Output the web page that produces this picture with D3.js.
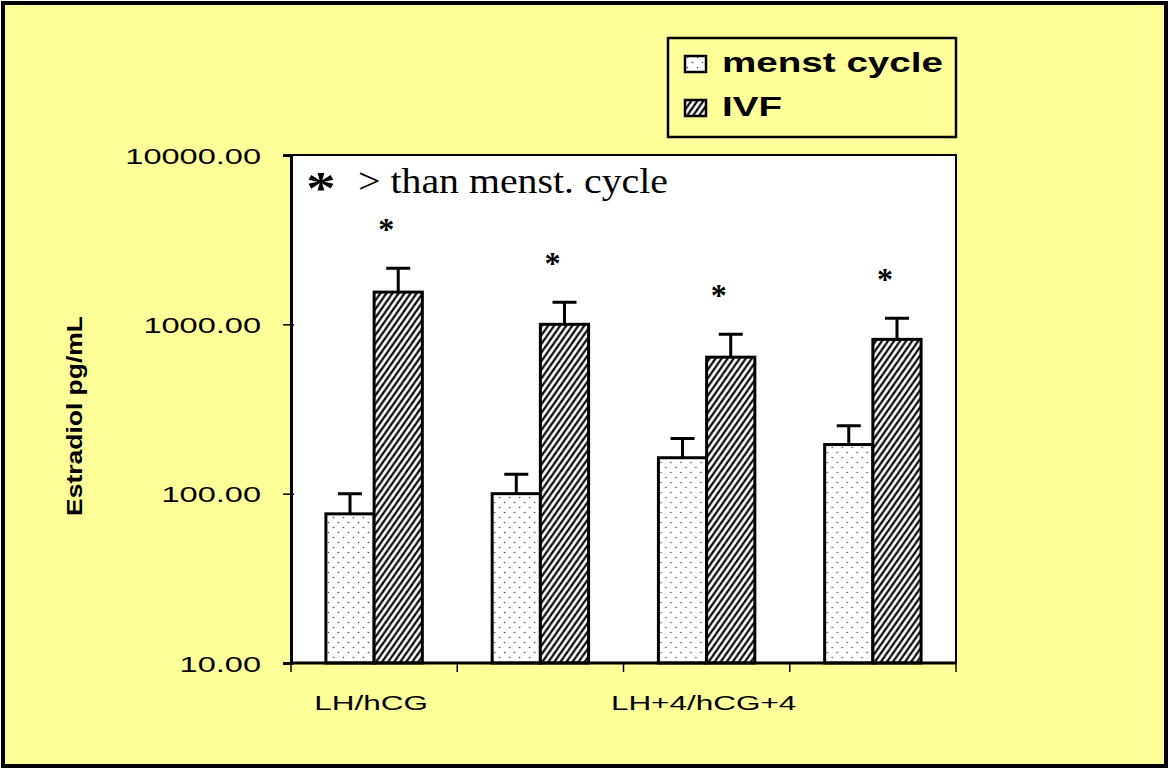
<!DOCTYPE html>
<html>
<head>
<meta charset="utf-8">
<script src="https://cdn.jsdelivr.net/npm/d3@7"></script>
<style>
  html, body { margin: 0; padding: 0; background: #ffffff; }
  svg { display: block; }
</style>
</head>
<body>
<script>
// Estradiol by timepoint, spontaneous cycle vs IVF (mean + upper SEM)
const tickLabels = ["LH/hCG", "", "LH+4/hCG+4", ""];
const seriesNames = ["menst cycle", "IVF"];
const menstMean = [76, 100, 163, 195];
const menstErr = [24, 30, 49, 57];
const ivfMean = [1550, 1000, 640, 815];
const ivfErr = [595, 350, 233, 271];
const ivfSignificant = [true, true, true, true];
const yTicks = [10, 100, 1000, 10000];
const noteText = "> than menst. cycle";

const W = 1169, H = 770;
const plot = { left: 291, right: 956, top: 155, bottom: 663 };

const svg = d3.select("body").append("svg")
  .attr("width", W).attr("height", H);

// patterns for the two series
const defs = svg.append("defs");
const dots = defs.append("pattern")
  .attr("id", "dots").attr("patternUnits", "userSpaceOnUse")
  .attr("width", 10).attr("height", 10);
dots.append("rect").attr("width", 10).attr("height", 10).attr("fill", "#ffffff");
dots.append("circle").attr("cx", 2.5).attr("cy", 2.5).attr("r", 0.8).attr("fill", "#444");
dots.append("circle").attr("cx", 7.5).attr("cy", 7.5).attr("r", 0.8).attr("fill", "#444");

const hatch = defs.append("pattern")
  .attr("id", "hatch").attr("patternUnits", "userSpaceOnUse")
  .attr("width", 7).attr("height", 7)
  .attr("patternTransform", "rotate(-10)");
hatch.append("rect").attr("width", 7).attr("height", 7).attr("fill", "#ffffff");
hatch.append("path")
  .attr("d", "M-1.75,1.75 L1.75,-1.75 M0,7 L7,0 M5.25,8.75 L8.75,5.25")
  .attr("stroke", "#000").attr("stroke-width", 2.2);

const fills = ["url(#dots)", "url(#hatch)"];

// page background and frame
svg.append("rect")
  .attr("x", 3).attr("y", 3).attr("width", W - 6).attr("height", H - 7)
  .attr("fill", "#ffff99").attr("stroke", "#000").attr("stroke-width", 4);

// scales
const y = d3.scaleLog().domain([10, 10000]).range([plot.bottom, plot.top]);
const x0 = d3.scaleBand().domain(d3.range(tickLabels.length))
  .range([plot.left, plot.right]).paddingInner(0.42).paddingOuter(0.21);
const x1 = d3.scaleBand().domain(seriesNames).range([0, x0.bandwidth()]);

// plot area
svg.append("rect")
  .attr("x", plot.left).attr("y", plot.top)
  .attr("width", plot.right - plot.left).attr("height", plot.bottom - plot.top)
  .attr("fill", "#ffffff").attr("stroke", "#000").attr("stroke-width", 2);

// bars
const rows = d3.range(tickLabels.length).map(i => ({
  i,
  bars: [
    { s: seriesNames[0], v: menstMean[i], e: menstErr[i], star: false },
    { s: seriesNames[1], v: ivfMean[i], e: ivfErr[i], star: ivfSignificant[i] }
  ]
}));

const g = svg.append("g").selectAll("g").data(rows).join("g")
  .attr("transform", d => `translate(${x0(d.i)},0)`);

// error bars (upper only)
const capW = 24;
g.selectAll("path.err").data(d => d.bars).join("path")
  .attr("class", "err")
  .attr("d", d => {
    const cx = x1(d.s) + x1.bandwidth() / 2;
    const yt = y(d.v + d.e);
    return `M${cx},${y(d.v)} V${yt} M${cx - capW / 2},${yt} H${cx + capW / 2}`;
  })
  .attr("stroke", "#000").attr("stroke-width", 3).attr("fill", "none");

g.selectAll("rect.bar").data(d => d.bars).join("rect")
  .attr("class", "bar")
  .attr("x", d => x1(d.s))
  .attr("y", d => y(d.v))
  .attr("width", x1.bandwidth())
  .attr("height", d => y(10) - y(d.v))
  .attr("fill", (d, k) => fills[k])
  .attr("stroke", "#000").attr("stroke-width", 3);

// significance marks, set just left of the IVF bar centre
g.selectAll("text.star").data(d => d.bars.filter(b => b.star)).join("text")
  .attr("class", "star")
  .attr("x", d => x1(d.s) + x1.bandwidth() / 2 - 12)
  .attr("y", d => y(d.v + d.e) - 28)
  .attr("text-anchor", "middle")
  .attr("font-family", "'Liberation Serif', 'Times New Roman', serif")
  .attr("font-weight", "bold")
  .attr("font-size", 32)
  .text("*");

// y axis
const yAxis = d3.axisLeft(y).tickValues(yTicks).tickFormat(d3.format(".2f"))
  .tickSize(8).tickPadding(0);
const ya = svg.append("g").attr("transform", `translate(${plot.left},0)`).call(yAxis);
ya.select(".domain").attr("stroke", "#000").attr("stroke-width", 3);
ya.selectAll(".tick line").attr("stroke", "#000").attr("stroke-width", 1.5)
  .attr("x2", -8).attr("x1", 3);
ya.selectAll(".tick text").remove();
ya.selectAll(".tick").append("text")
  .attr("transform", "translate(-30,8) scale(1.48,1)")
  .attr("text-anchor", "end")
  .attr("fill", "#000")
  .attr("font-family", "'Liberation Sans', Arial, sans-serif")
  .attr("font-size", 22)
  .text(d => d3.format(".2f")(d));

// x axis: line with ticks at group boundaries
svg.append("line")
  .attr("x1", plot.left).attr("x2", plot.right)
  .attr("y1", plot.bottom).attr("y2", plot.bottom)
  .attr("stroke", "#000").attr("stroke-width", 3);
svg.append("g").selectAll("line")
  .data(d3.range(tickLabels.length + 1))
  .join("line")
  .attr("x1", k => plot.left + k * x0.step())
  .attr("x2", k => plot.left + k * x0.step())
  .attr("y1", plot.bottom).attr("y2", plot.bottom + 9)
  .attr("stroke", "#000").attr("stroke-width", 1.5);

svg.append("g").selectAll("text")
  .data(d3.range(tickLabels.length).filter(i => tickLabels[i] !== ""))
  .join("text")
  .attr("transform", i => `translate(${x0(i) + x0.bandwidth() / 2 - 3},710) scale(1.5,1)`)
  .attr("text-anchor", "middle")
  .attr("font-family", "'Liberation Sans', Arial, sans-serif")
  .attr("font-size", 21)
  .text(i => tickLabels[i]);

// y axis title
svg.append("text")
  .attr("transform", "translate(82,416) rotate(-90)")
  .attr("text-anchor", "middle")
  .attr("font-family", "'Liberation Sans', Arial, sans-serif")
  .attr("font-weight", "bold")
  .attr("font-size", 22)
  .attr("textLength", 200)
  .attr("lengthAdjust", "spacingAndGlyphs")
  .text("Estradiol pg/mL");

// annotation inside the plot
svg.append("text")
  .attr("transform", "translate(321,204) scale(1.3,1)")
  .attr("text-anchor", "middle")
  .attr("font-family", "'Liberation Serif', 'Times New Roman', serif")
  .attr("font-weight", "bold")
  .attr("font-size", 46)
  .text("*");
svg.append("text")
  .attr("x", 358).attr("y", 193)
  .attr("font-family", "'Liberation Serif', 'Times New Roman', serif")
  .attr("font-size", 35)
  .attr("textLength", 310)
  .attr("lengthAdjust", "spacingAndGlyphs")
  .text(noteText);

// legend
const legend = svg.append("g");
legend.append("rect")
  .attr("x", 668).attr("y", 38).attr("width", 288).attr("height", 99)
  .attr("fill", "#ffff99").attr("stroke", "#000").attr("stroke-width", 2.5);
const li = legend.selectAll("g.item").data(seriesNames).join("g")
  .attr("class", "item")
  .attr("transform", (d, k) => `translate(0,${k * 44})`);
li.append("rect")
  .attr("x", 685).attr("y", 56).attr("width", 21).attr("height", 16)
  .attr("fill", (d, k) => fills[k])
  .attr("stroke", "#000").attr("stroke-width", 2.5);
li.append("text")
  .attr("transform", "translate(722,72) scale(1.43,1)")
  .attr("font-family", "'Liberation Sans', Arial, sans-serif")
  .attr("font-weight", "bold")
  .attr("font-size", 27)
  .text(d => d);
</script>
</body>
</html>
